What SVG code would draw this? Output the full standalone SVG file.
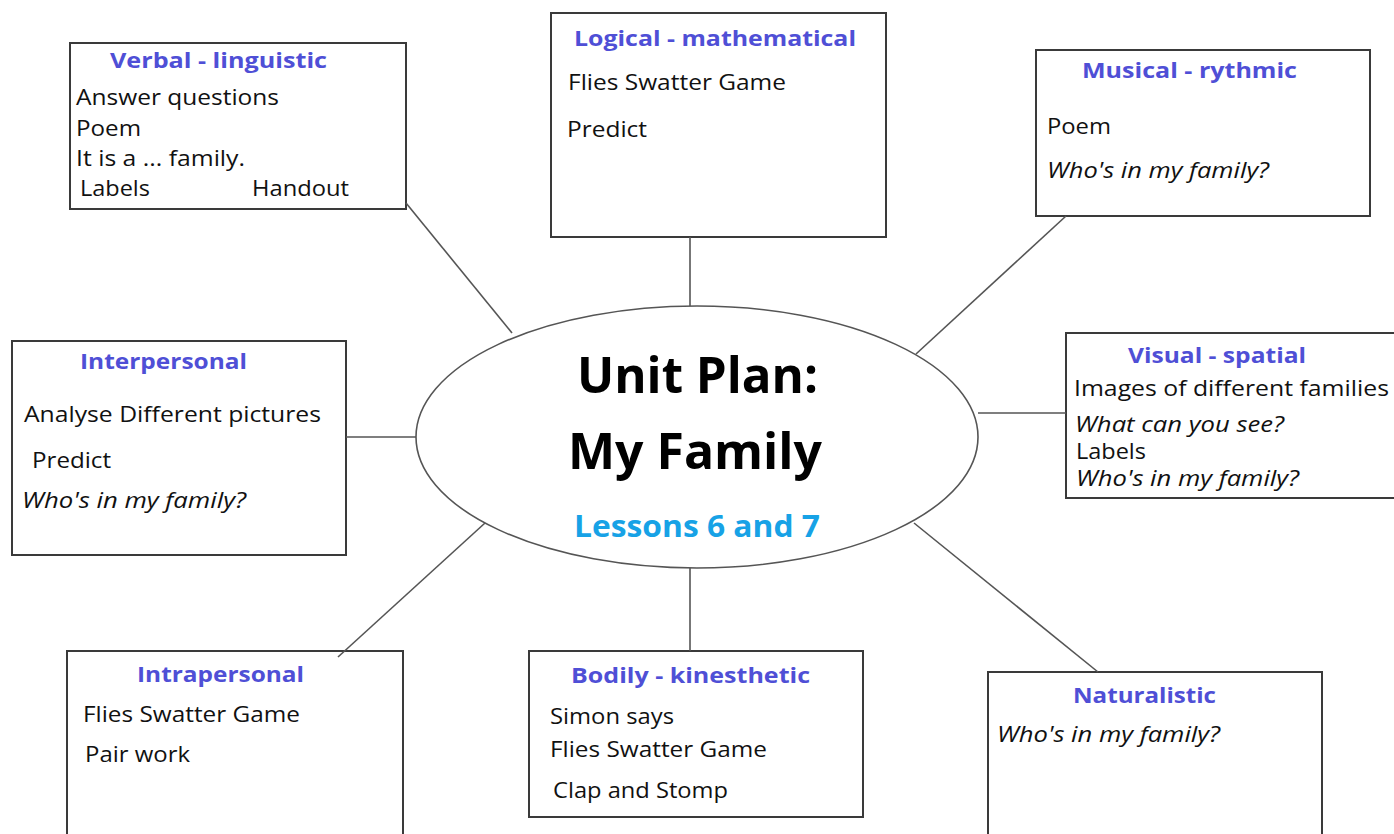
<svg xmlns="http://www.w3.org/2000/svg" width="1394" height="834" viewBox="0 0 1394 834">
<style>
.box{fill:#fff;stroke:#3a3a3a;stroke-width:2}
.t{font-family:"Open Sans","Liberation Sans",sans-serif;font-size:22px;font-weight:bold;fill:#4f4fd6}
.b{font-family:"Open Sans","Liberation Sans",sans-serif;font-size:21px;fill:#111}
.i{font-style:italic}
.c{stroke:#555;stroke-width:1.6;fill:none}
</style>
<rect width="1394" height="834" fill="#fff"/>
<g id="center">
<ellipse cx="697" cy="437" rx="281" ry="131" fill="#fff" stroke="#555" stroke-width="1.6"/>
<text x="577" y="393" font-family="Open Sans, Liberation Sans, sans-serif" font-size="50" font-weight="bold" fill="#000" textLength="241" lengthAdjust="spacingAndGlyphs">Unit Plan:</text>
<text x="568" y="469" font-family="Open Sans, Liberation Sans, sans-serif" font-size="50" font-weight="bold" fill="#000" textLength="254" lengthAdjust="spacingAndGlyphs">My Family</text>
<text x="574" y="537" font-family="Open Sans, Liberation Sans, sans-serif" font-size="31" font-weight="bold" fill="#17a2e6" textLength="246" lengthAdjust="spacingAndGlyphs">Lessons 6 and 7</text>
</g>
<g id="verbal">
<rect class="box" x="70" y="43" width="336" height="166"/>
<text class="t" x="110" y="68" textLength="217" lengthAdjust="spacingAndGlyphs">Verbal - linguistic</text>
<text class="b" x="76" y="105" textLength="203" lengthAdjust="spacingAndGlyphs">Answer questions</text>
<text class="b" x="76" y="136" textLength="65" lengthAdjust="spacingAndGlyphs">Poem</text>
<text class="b" x="76" y="166" textLength="169" lengthAdjust="spacingAndGlyphs">It is a ... family.</text>
<text class="b" x="80" y="196" textLength="70" lengthAdjust="spacingAndGlyphs">Labels</text>
<text class="b" x="252" y="196" textLength="97" lengthAdjust="spacingAndGlyphs">Handout</text>
</g>
<g id="logical">
<rect class="box" x="551" y="13" width="335" height="224"/>
<text class="t" x="574" y="46" textLength="282" lengthAdjust="spacingAndGlyphs">Logical - mathematical</text>
<text class="b" x="568" y="90" textLength="218" lengthAdjust="spacingAndGlyphs">Flies Swatter Game</text>
<text class="b" x="567" y="137" textLength="80" lengthAdjust="spacingAndGlyphs">Predict</text>
</g>
<g id="musical">
<rect class="box" x="1036" y="50" width="334" height="166"/>
<text class="t" x="1082" y="78" textLength="215" lengthAdjust="spacingAndGlyphs">Musical - rythmic</text>
<text class="b" x="1047" y="134" textLength="64" lengthAdjust="spacingAndGlyphs">Poem</text>
<text class="b i" x="1047" y="178" textLength="222" lengthAdjust="spacingAndGlyphs">Who's in my family?</text>
</g>
<g id="interpersonal">
<rect class="box" x="12" y="341" width="334" height="214"/>
<text class="t" x="80" y="369" textLength="167" lengthAdjust="spacingAndGlyphs">Interpersonal</text>
<text class="b" x="24" y="422" textLength="297" lengthAdjust="spacingAndGlyphs">Analyse Different pictures</text>
<text class="b" x="32" y="468" textLength="79" lengthAdjust="spacingAndGlyphs">Predict</text>
<text class="b i" x="22" y="508" textLength="224" lengthAdjust="spacingAndGlyphs">Who's in my family?</text>
</g>
<g id="visual">
<rect class="box" x="1066" y="333" width="336" height="165"/>
<text class="t" x="1128" y="363" textLength="178" lengthAdjust="spacingAndGlyphs">Visual - spatial</text>
<text class="b" x="1074" y="396" textLength="315" lengthAdjust="spacingAndGlyphs">Images of different families</text>
<text class="b i" x="1075" y="432" textLength="209" lengthAdjust="spacingAndGlyphs">What can you see?</text>
<text class="b" x="1076" y="459" textLength="70" lengthAdjust="spacingAndGlyphs">Labels</text>
<text class="b i" x="1076" y="486" textLength="223" lengthAdjust="spacingAndGlyphs">Who's in my family?</text>
</g>
<g id="intrapersonal">
<rect class="box" x="67" y="651" width="336" height="190"/>
<text class="t" x="137" y="682" textLength="167" lengthAdjust="spacingAndGlyphs">Intrapersonal</text>
<text class="b" x="83" y="722" textLength="217" lengthAdjust="spacingAndGlyphs">Flies Swatter Game</text>
<text class="b" x="85" y="762" textLength="105" lengthAdjust="spacingAndGlyphs">Pair work</text>
</g>
<g id="bodily">
<rect class="box" x="529" y="651" width="334" height="166"/>
<text class="t" x="571" y="683" textLength="239" lengthAdjust="spacingAndGlyphs">Bodily - kinesthetic</text>
<text class="b" x="550" y="724" textLength="124" lengthAdjust="spacingAndGlyphs">Simon says</text>
<text class="b" x="550" y="757" textLength="217" lengthAdjust="spacingAndGlyphs">Flies Swatter Game</text>
<text class="b" x="553" y="798" textLength="175" lengthAdjust="spacingAndGlyphs">Clap and Stomp</text>
</g>
<g id="naturalistic">
<rect class="box" x="988" y="672" width="334" height="170"/>
<text class="t" x="1073" y="703" textLength="143" lengthAdjust="spacingAndGlyphs">Naturalistic</text>
<text class="b i" x="997" y="742" textLength="223" lengthAdjust="spacingAndGlyphs">Who's in my family?</text>
</g>
<g id="connectors">
<line class="c" x1="406" y1="203" x2="512" y2="333"/>
<line class="c" x1="690" y1="237" x2="690" y2="306"/>
<line class="c" x1="1066" y1="216" x2="916" y2="354"/>
<line class="c" x1="346" y1="437" x2="416" y2="437"/>
<line class="c" x1="978" y1="413" x2="1066" y2="413"/>
<line class="c" x1="485" y1="523" x2="338" y2="657"/>
<line class="c" x1="690" y1="568" x2="690" y2="651"/>
<line class="c" x1="914" y1="523" x2="1098" y2="672"/>
</g>
</svg>
